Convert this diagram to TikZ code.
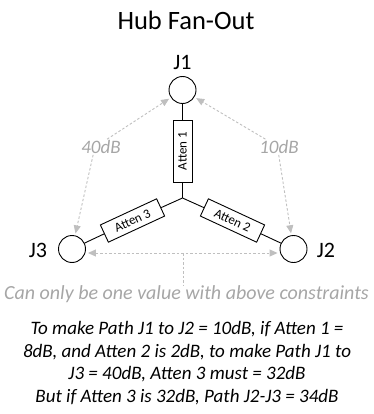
\documentclass[tikz,border=0pt]{standalone}
\usepackage{fontspec}
\setmainfont{Carlito}
\usetikzlibrary{arrows.meta}
\definecolor{lgray}{HTML}{BFBFBF}
\definecolor{tgray}{HTML}{A6A6A6}
\begin{document}
\begin{tikzpicture}[x=1pt,y=-1pt,
  junc/.style={circle,draw,line width=0.9pt,minimum size=27pt,inner sep=0pt},
  jlab/.style={font=\fontsize{22}{24}\selectfont},
  attbox/.style={draw,fill=white,line width=0.9pt,minimum width=62pt,minimum height=19pt,inner sep=0pt,font=\fontsize{13}{14}\selectfont},
  wire/.style={line width=0.9pt},
  garrow/.style={draw=lgray,dashed,dash pattern=on 2.5pt off 2pt,line width=0.9pt,-{Triangle[length=8pt,width=7pt,fill=lgray]},shorten >=2pt},
  gline/.style={draw=lgray,dashed,dash pattern=on 2.5pt off 2pt,line width=0.9pt},
  glab/.style={text=tgray,font=\fontsize{19}{21}\selectfont\itshape,inner sep=1pt}
]
\useasboundingbox (0,0) rectangle (373,414);
\node[font=\fontsize{26.5}{28}\selectfont] (title) at (186,20) {Hub Fan-Out};
\node[junc] (J1) at (182.5,90) {};
\node[junc] (J2) at (293.5,249) {};
\node[junc] (J3) at (72,249) {};
\node[jlab] (J1l) at (182.5,62) {J1};
\node[jlab] (J2l) at (326,250) {J2};
\node[jlab] (J3l) at (38,250) {J3};
\coordinate (hub) at (182.5,198);
\node[attbox,rotate=90] (A1) at (182.5,151) {Atten 1};
\node[attbox,rotate=24.9] (A3) at (132.5,220.5) {Atten 3};
\node[attbox,rotate=-24.9] (A2) at (232.5,220.5) {Atten 2};
\draw[wire] (J1) -- (A1);
\draw[wire] (A1) -- (hub);
\draw[wire] (hub) -- (A3);
\draw[wire] (A3) -- (J3);
\draw[wire] (hub) -- (A2);
\draw[wire] (A2) -- (J2);
\node[glab] (l40) at (101,147) {40dB};
\node[glab] (l10) at (279,147) {10dB};
\draw[garrow] (l40.52) -- (J1);
\draw[garrow] (l40.225) -- (J3);
\draw[garrow] (l10.150) -- (J1);
\draw[garrow] (l10.268) -- (J2);
\coordinate (lj3) at ([yshift=-4pt]J3.east);
\coordinate (lj2) at ([yshift=-4pt]J2.west);
\draw[garrow,{Triangle[length=8pt,width=7pt,fill=lgray]}-{Triangle[length=8pt,width=7pt,fill=lgray]},shorten <=2pt] (lj3) -- (lj2);
\coordinate (mid) at (183,253);
\node[glab,inner sep=0pt,font=\fontsize{20}{22}\selectfont\itshape] (cant) at (186.5,294) {Can only be one value with above constraints};
\draw[gline] (mid) -- (mid |- cant.north) ;
\node[font=\fontsize{19}{22.5}\selectfont\itshape,align=center,anchor=north] (expl) at (187,318)
 {To make Path J1 to J2 = 10dB, if Atten 1 =\\
  8dB, and Atten 2 is 2dB, to make Path J1 to\\
  J3 = 40dB, Atten 3 must = 32dB\\
  But if Atten 3 is 32dB, Path J2-J3 = 34dB};
\end{tikzpicture}
\end{document}
